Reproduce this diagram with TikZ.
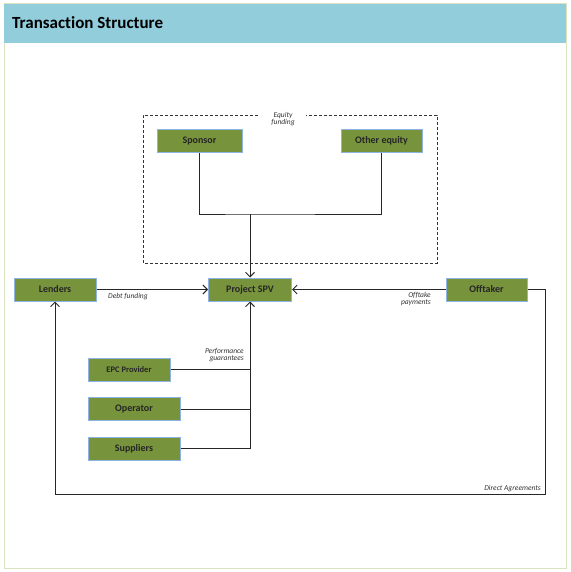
\documentclass[tikz,border=0pt]{standalone}
\usepackage{fontspec}
\setmainfont[Ligatures={NoCommon,NoRare}]{Carlito}
\usetikzlibrary{arrows.meta}
\definecolor{boxfill}{HTML}{77933C}
\definecolor{boxline}{HTML}{8DB3E2}
\definecolor{headfill}{HTML}{92CDDC}
\definecolor{frameline}{HTML}{D7E4BD}
\tikzset{
  box/.style={draw=boxline, line width=1pt, fill=boxfill, minimum height=23pt, inner sep=0pt, font=\fontsize{10}{11}\selectfont\bfseries, text=black!85},
  conn/.style={draw=black!85, line width=0.9pt},
  arr/.style={conn, -{Straight Barb[length=4.5pt,width=9pt,line width=0.9pt]}},
  lbl/.style={font=\fontsize{7.5}{7.5}\selectfont\itshape, text=black!80, inner sep=0pt, align=right}
}
\begin{document}
\begin{tikzpicture}[x=1pt,y=-1pt]
\useasboundingbox (0,0) rectangle (570,572);
\fill[white] (0,0) rectangle (570,572);
\draw[frameline, line width=1pt] (4,4) rectangle (566,568);
\fill[headfill] (4,4) rectangle (566,43);
\node[anchor=west, font=\fontsize{17}{19}\selectfont\bfseries, inner sep=0pt] (title) at (12,23) {Transaction Structure};

% equity group
\draw[dashed, line width=0.8pt, black!80, dash pattern=on 3pt off 2pt] (258,115) -- (143,115) -- (143,263) -- (437,263) -- (437,115) -- (306,115);
\node[lbl, align=center] (eqlbl) at (283,119) {Equity\\funding};

\node[box, minimum width=85pt] (sponsor) at (199.5,141) {Sponsor};
\node[box, minimum width=81pt] (other) at (381.5,141) {Other equity};

\node[box, minimum width=82pt] (lenders) at (55,289.5) {Lenders};
\node[box, minimum width=83pt] (spv) at (250,289.5) {Project SPV};
\node[box, minimum width=81pt] (offtaker) at (486.5,289.5) {Offtaker};

\node[box, minimum width=82pt, font=\fontsize{8.5}{9}\selectfont\bfseries] (epc) at (129,369.5) {EPC Provider};
\node[box, minimum width=92pt] (operator) at (134,409) {Operator};
\node[box, minimum width=92pt] (suppliers) at (134,448.5) {Suppliers};

% equity connectors
\coordinate (eqj) at (250,214);
\draw[conn] (sponsor.south) |- (eqj) -| (other.south);
\draw[arr] (eqj) -- (spv.north);

% debt & offtake
\draw[arr] (lenders.east) -- (spv.west);
\node[lbl, anchor=north west] (debt) at (108,293) {Debt funding};
\draw[arr] (offtaker.west) -- (spv.east);
\node[lbl, anchor=north east] (offlbl) at (431,292) {Offtake\\payments};

% direct agreements
\coordinate (da) at (545,494);
\draw[arr] (offtaker.east) -| (da) -| (lenders.south);
\node[lbl, anchor=south east] (dalbl) at (541,492) {Direct Agreements};

% performance guarantees
\draw[conn] (epc.east) -- (epc.east -| spv.south);
\draw[conn] (operator.east) -- (operator.east -| spv.south);
\draw[arr] (suppliers.east) -| (spv.south);
\node[lbl, anchor=south east] (pglbl) at (244,362) {Performance\\guarantees};
\end{tikzpicture}
\end{document}
